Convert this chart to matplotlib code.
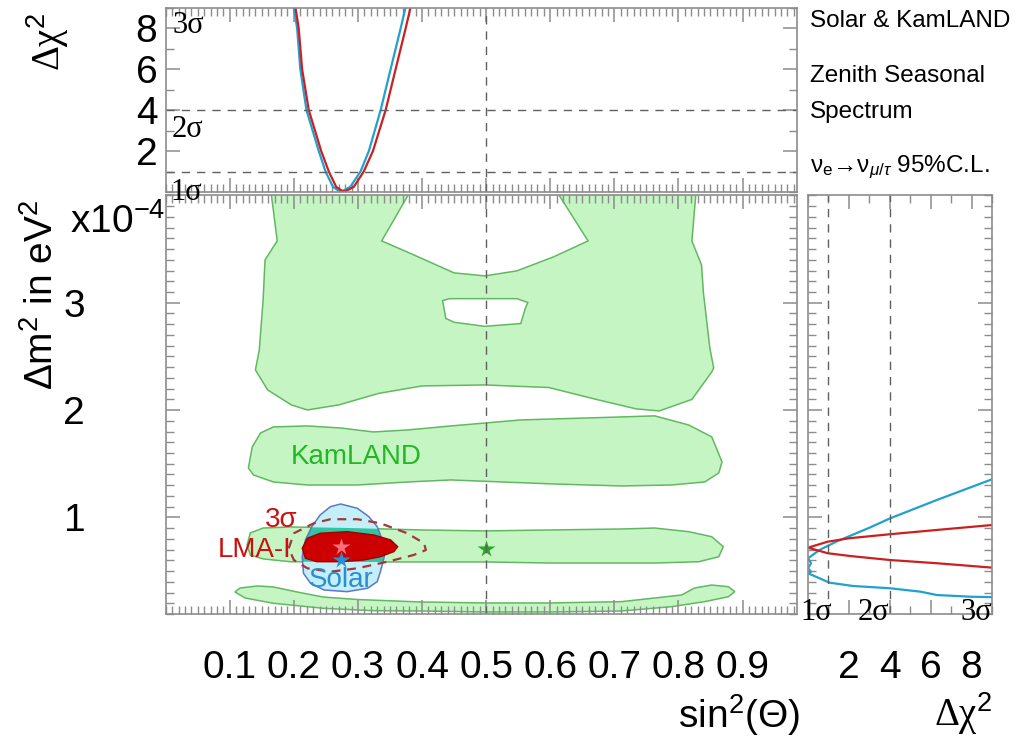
import numpy as np
import matplotlib
matplotlib.use("Agg")
import matplotlib.pyplot as plt
from matplotlib.path import Path
from matplotlib.patches import PathPatch, Polygon
from matplotlib.ticker import MultipleLocator, FixedLocator

plt.rcParams['font.family'] = ['Liberation Sans', 'DejaVu Sans']
plt.rcParams['mathtext.fontset'] = 'custom'
plt.rcParams['mathtext.rm'] = 'Liberation Sans'
plt.rcParams['mathtext.it'] = 'Liberation Sans:italic'

# --- KamLAND allowed regions (sin^2 theta, dm^2 in 1e-4 eV^2) ---
kam_top_outer = [(0.165, 4.10), (0.165, 4.0), (0.174, 3.576), (0.155, 3.399), (0.152, 3.026),
                 (0.146, 2.560), (0.140, 2.374), (0.159, 2.188), (0.196, 2.048), (0.221, 2.001),
                 (0.270, 2.048), (0.332, 2.155), (0.400, 2.225), (0.498, 2.234), (0.598, 2.210),
                 (0.672, 2.099), (0.734, 2.011), (0.770, 1.992), (0.821, 2.099), (0.852, 2.355),
                 (0.855, 2.393), (0.849, 2.579), (0.839, 3.092), (0.836, 3.353), (0.821, 3.576),
                 (0.827, 4.0), (0.827, 4.10)]
kam_top_hole = [(0.378, 4.05), (0.378, 4.0), (0.337, 3.576), (0.387, 3.446), (0.450, 3.278),
                (0.498, 3.250), (0.548, 3.297), (0.605, 3.427), (0.659, 3.576), (0.614, 4.0),
                (0.614, 4.05)]
kam_small_hole = [(0.432, 3.020), (0.437, 2.854), (0.450, 2.818), (0.498, 2.780), (0.554, 2.806),
                  (0.561, 2.946), (0.565, 3.002), (0.548, 3.038), (0.443, 3.038)]
kam_mid = [(0.129, 1.461), (0.135, 1.656), (0.148, 1.787), (0.168, 1.843), (0.221, 1.852),
           (0.273, 1.833), (0.324, 1.796), (0.378, 1.815), (0.445, 1.852), (0.554, 1.908),
           (0.711, 1.936), (0.763, 1.946), (0.816, 1.861), (0.852, 1.750), (0.868, 1.517),
           (0.863, 1.414), (0.841, 1.330), (0.789, 1.302), (0.711, 1.293), (0.602, 1.312),
           (0.445, 1.349), (0.378, 1.330), (0.299, 1.302), (0.221, 1.302), (0.168, 1.330),
           (0.137, 1.395)]
kam_lma = [(0.127, 0.743), (0.132, 0.855), (0.152, 0.901), (0.195, 0.911), (0.288, 0.901),
           (0.398, 0.883), (0.497, 0.874), (0.601, 0.883), (0.711, 0.892), (0.763, 0.901),
           (0.816, 0.867), (0.852, 0.820), (0.870, 0.727), (0.863, 0.634), (0.832, 0.587),
           (0.763, 0.575), (0.601, 0.575), (0.497, 0.585), (0.398, 0.585), (0.288, 0.585),
           (0.195, 0.587), (0.152, 0.613), (0.132, 0.650)]
kam_low = [(0.108, 0.305), (0.116, 0.342), (0.143, 0.361), (0.168, 0.352), (0.205, 0.305),
           (0.246, 0.258), (0.299, 0.235), (0.398, 0.212), (0.498, 0.203), (0.601, 0.203),
           (0.711, 0.215), (0.763, 0.249), (0.805, 0.277), (0.825, 0.342), (0.852, 0.370),
           (0.878, 0.354), (0.888, 0.308), (0.878, 0.261), (0.841, 0.215), (0.789, 0.168),
           (0.711, 0.128), (0.601, 0.119), (0.498, 0.119), (0.398, 0.128), (0.324, 0.131),
           (0.246, 0.153), (0.168, 0.200), (0.124, 0.249)]

solar = [(0.273, 1.125), (0.299, 1.085), (0.317, 1.007), (0.330, 0.914), (0.338, 0.790),
         (0.341, 0.634), (0.335, 0.494), (0.330, 0.401), (0.315, 0.340), (0.283, 0.308),
         (0.247, 0.324), (0.226, 0.386), (0.215, 0.479), (0.213, 0.634), (0.218, 0.790),
         (0.228, 0.914), (0.241, 1.023), (0.257, 1.100)]
lma1 = [(0.213, 0.712), (0.221, 0.806), (0.241, 0.852), (0.283, 0.867), (0.325, 0.836),
        (0.351, 0.790), (0.362, 0.727), (0.356, 0.681), (0.335, 0.634), (0.309, 0.603),
        (0.273, 0.587), (0.236, 0.587), (0.218, 0.619)]
lma1_3sigma = [(0.192, 0.712), (0.200, 0.852), (0.231, 0.945), (0.257, 0.983), (0.299, 0.983),
               (0.335, 0.945), (0.377, 0.852), (0.403, 0.759), (0.406, 0.696), (0.387, 0.650),
               (0.346, 0.587), (0.299, 0.526), (0.257, 0.494), (0.221, 0.526), (0.200, 0.603),
               (0.192, 0.712)]

best_combined = (0.273, 0.727)
best_solar = (0.273, 0.603)
best_kamland = (0.5, 0.71)

# --- top panel: dchi2 vs sin^2 theta ---
top_chi2 = [9.04, 8, 6, 4, 2, 1, 0.25, 0, 0.25, 1, 2, 4, 6, 8, 9.04]
top_s2_solar = [0.1997, 0.205, 0.210, 0.2196, 0.2388, 0.2494, 0.261, 0.2728, 0.288,
                0.304, 0.317, 0.3354, 0.351, 0.3667, 0.3745]
top_s2_comb = [0.2023, 0.2075, 0.2128, 0.2232, 0.2426, 0.2545, 0.266, 0.278, 0.2935,
               0.309, 0.3234, 0.3432, 0.3588, 0.3745, 0.3823]

# --- right panel: dchi2 vs dm^2 ---
r_chi2_comb = [9.0, 6.3, 4.0, 2.03, 0.97, 0.0, 0.97, 2.03, 4.0, 6.3, 9.0]
r_dm2_comb = [0.929, 0.883, 0.843, 0.806, 0.774, 0.718, 0.666, 0.641, 0.603, 0.573, 0.532]
r_chi2_solar = [9.0, 6.3, 4.0, 3.02, 1.38, 0.56, 0.0, 0.15, 0.0, 0.15, 0.0, 0.56, 1.05, 2.2, 4.0, 5.5, 6.3, 7.96, 9.0]
r_dm2_solar = [1.355, 1.162, 0.99, 0.905, 0.774, 0.696, 0.619, 0.573, 0.526, 0.494, 0.479, 0.433, 0.392, 0.361, 0.340, 0.308, 0.277, 0.261, 0.257]

x_ticks = [0.1, 0.2, 0.3, 0.4, 0.5, 0.6, 0.7, 0.8, 0.9]
y_ticks = [1, 2, 3]
chi_ticks = [2, 4, 6, 8]

GREEN_FILL = '#c6f5c4'
GREEN_EDGE = '#62b862'
SOLAR_FILL = '#c4eef8'
SOLAR_EDGE = '#5a78c8'
TEAL = '#33c3a0'
RED = '#cc0000'
BLUE_LINE = '#22a0d0'
RED_LINE = '#cc2020'
FRAME = '#8c8c8c'

W, H = 1024, 748
def fx(px):
    return px / W
def fy(py):
    return 1 - py / H

fig = plt.figure(figsize=(W / 100, H / 100), dpi=100)
fig.patch.set_facecolor('white')

left, right = 165.7, 797
ax = fig.add_axes([fx(left), fy(614), (right - left) / W, (614 - 195.4) / H])
ax_top = fig.add_axes([fx(left), fy(192), (right - left) / W, (192 - 7.5) / H])
ax_r = fig.add_axes([fx(808), fy(614), (992 - 808) / W, (614 - 195.4) / H])


def frame(a):
    for s in a.spines.values():
        s.set_color(FRAME)
        s.set_linewidth(1.2)
    a.tick_params(which='both', direction='in', colors=FRAME, labelcolor='black',
                  top=True, right=True, labelsize=28)
    a.tick_params(which='major', length=10, width=1.1)
    a.tick_params(which='minor', length=6, width=1.0)


# main panel
def poly_path(pts):
    verts = list(pts) + [pts[0]]
    codes = [Path.MOVETO] + [Path.LINETO] * (len(pts) - 1) + [Path.CLOSEPOLY]
    return verts, codes

verts, codes = [], []
for pts in (kam_top_outer, kam_top_hole[::-1], kam_small_hole[::-1]):
    v, c = poly_path(pts)
    verts += v
    codes += c
ax.add_patch(PathPatch(Path(verts, codes), facecolor=GREEN_FILL, edgecolor=GREEN_EDGE, lw=1.1))
for band in (kam_mid, kam_low):
    ax.add_patch(Polygon(band, closed=True, facecolor=GREEN_FILL, edgecolor=GREEN_EDGE, lw=1.1))
ax.add_patch(Polygon(kam_lma, closed=True, facecolor=GREEN_FILL, edgecolor=GREEN_EDGE, lw=1.1))

solar_patch = Polygon(solar, closed=True, facecolor=SOLAR_FILL, edgecolor='none')
ax.add_patch(solar_patch)
# overlap of solar and KamLAND LMA band
overlap = Polygon(kam_lma, closed=True, facecolor=TEAL, edgecolor='none')
ax.add_patch(overlap)
overlap.set_clip_path(solar_patch)
ax.add_patch(Polygon(solar, closed=True, facecolor='none', edgecolor=SOLAR_EDGE, lw=1.1))
ax.add_patch(Polygon(lma1, closed=True, facecolor=RED, edgecolor='#a00000', lw=1.0))
px3, py3 = zip(*lma1_3sigma)
ax.plot(px3, py3, color='#a03838', lw=1.6, ls=(0, (4, 3)))

ax.plot(*best_combined, marker='*', ms=13, color='#ff7078', mec='none')
ax.plot(*best_solar, marker='*', ms=13, color='#2a8fd0', mec='none')
ax.plot(*best_kamland, marker='*', ms=13, color='#22aa22', mec='none')
ax.axvline(0.5, color='#606060', lw=1.0, ls=(0, (6, 5)))

ax.set_xlim(0, 0.985)
ax.set_ylim(0.1, 4.0)
frame(ax)
ax.xaxis.set_major_locator(FixedLocator(x_ticks))
ax.xaxis.set_minor_locator(MultipleLocator(0.01))
ax.yaxis.set_major_locator(FixedLocator(y_ticks))
ax.yaxis.set_minor_locator(MultipleLocator(0.1))
ax.set_xticklabels([f'{v:.1f}' for v in x_ticks])
ax.set_yticklabels([str(v) for v in y_ticks])
ax.tick_params(axis='x', pad=26)
ax.tick_params(axis='y', pad=58)

ax.text(0.297, 1.56, 'KamLAND', color='#22b822', fontsize=20, ha='center', va='center')
fig.text(fx(291), fy(557), 'LMA-I', color='#cc1010', fontsize=20, ha='right', va='baseline')
fig.text(fx(265), fy(527), '3σ', color='#cc1010', fontsize=20, ha='left', va='baseline')
fig.text(fx(341), fy(587), 'Solar', color='#2c8ed0', fontsize=20, ha='center', va='baseline')

# top panel
ax_top.plot(top_s2_solar, top_chi2, color=BLUE_LINE, lw=1.6)
ax_top.plot(top_s2_comb, top_chi2, color=RED_LINE, lw=1.6)
ax_top.axhline(1, color='#606060', lw=1.0, ls=(0, (6, 5)))
ax_top.axhline(4, color='#606060', lw=1.0, ls=(0, (6, 5)))
ax_top.axvline(0.5, color='#606060', lw=1.0, ls=(0, (6, 5)))
ax_top.set_xlim(0, 0.985)
ax_top.set_ylim(0, 9)
frame(ax_top)
ax_top.xaxis.set_major_locator(FixedLocator(x_ticks))
ax_top.xaxis.set_minor_locator(MultipleLocator(0.01))
ax_top.yaxis.set_major_locator(FixedLocator(chi_ticks))
ax_top.yaxis.set_minor_locator(MultipleLocator(1))
ax_top.set_xticklabels([])
ax_top.set_yticklabels([str(v) for v in chi_ticks])
ax_top.tick_params(axis='y', pad=6)

# right panel
ax_r.plot(r_chi2_solar, r_dm2_solar, color=BLUE_LINE, lw=1.6)
ax_r.plot(r_chi2_comb, r_dm2_comb, color=RED_LINE, lw=1.6)
ax_r.axvline(1, color='#606060', lw=1.0, ls=(0, (6, 5)))
ax_r.axvline(4, color='#606060', lw=1.0, ls=(0, (6, 5)))
ax_r.set_xlim(0, 9)
ax_r.set_ylim(0.1, 4.0)
frame(ax_r)
ax_r.xaxis.set_major_locator(FixedLocator(chi_ticks))
ax_r.xaxis.set_minor_locator(MultipleLocator(1))
ax_r.yaxis.set_major_locator(FixedLocator(y_ticks))
ax_r.yaxis.set_minor_locator(MultipleLocator(0.1))
ax_r.set_xticklabels([str(v) for v in chi_ticks])
ax_r.set_yticklabels([])
ax_r.tick_params(axis='x', pad=26)

# sigma labels (serif)
serif = ['Liberation Serif', 'DejaVu Serif']
for (x, y, s) in [(172, 33, '3σ'), (172, 137, '2σ'), (170, 200, '1σ'),
                  (800, 620, '1σ'), (858, 620, '2σ'), (960, 620, '3σ')]:
    fig.text(fx(x), fy(y), s, family=serif, fontsize=22, ha='left', va='baseline')

# axis labels
fig.text(fx(48), fy(42), 'Δχ$^2$', family=serif, fontsize=28, rotation=90, ha='center', va='center')
fig.text(fx(42), fy(295), 'Δm$^2$ in eV$^2$', fontsize=28, rotation=90, ha='center', va='center')
fig.text(fx(70), fy(233), 'x10$^{-4}$', fontsize=28, ha='left', va='baseline')
fig.text(fx(800), fy(728), 'sin$^2$(Θ)', fontsize=28, ha='right', va='baseline')
fig.text(fx(992), fy(726), 'Δχ$^2$', family=serif, fontsize=28, ha='right', va='baseline')

# legend text top right
fig.text(fx(810), fy(27), 'Solar & KamLAND', fontsize=17.5, ha='left', va='baseline')
fig.text(fx(810), fy(82), 'Zenith Seasonal', fontsize=17.5, ha='left', va='baseline')
fig.text(fx(810), fy(118), 'Spectrum', fontsize=17.5, ha='left', va='baseline')
fig.text(fx(810), fy(172), r'ν$_\mathrm{e}$→ν$_{\mu/\tau}$ 95%C.L.', fontsize=17.5, ha='left', va='baseline')

fig.savefig('out.png', dpi=100)
